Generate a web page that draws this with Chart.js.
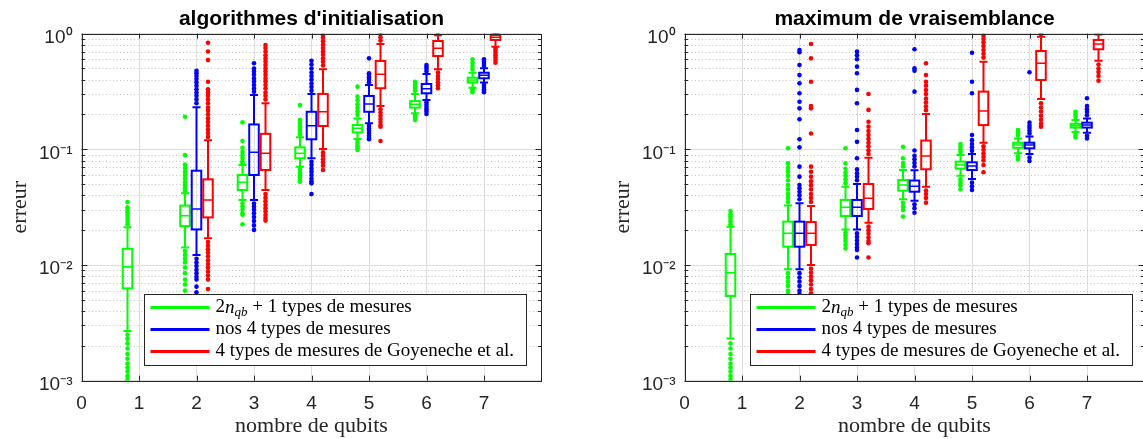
<!DOCTYPE html>
<html>
<head>
<meta charset="utf-8">
<script src="https://cdn.jsdelivr.net/npm/chart.js@4.4.1/dist/chart.umd.min.js"></script>
<style>
  html, body { margin: 0; padding: 0; background: #fff; overflow: hidden; width: 1143px; height: 439px; }
  .panel { position: absolute; top: 0; width: 623px; height: 439px; }
  #gauche { left: 0; }
  #droite { left: 603px; }
</style>
</head>
<body>
<div class="panel" id="gauche"><canvas id="c1" width="623" height="439"></canvas></div>
<div class="panel" id="droite"><canvas id="c2" width="623" height="439"></canvas></div>
<script>
// les donnees
const qubits = [1, 2, 3, 4, 5, 6, 7];
const xTicks = [0, 1, 2, 3, 4, 5, 6, 7];
const yTicks = [0.001, 0.01, 0.1, 1];
const yTickLabels = ['10⁻³', '10⁻²', '10⁻¹', '10⁰'];
const titres = ["algorithmes d'initialisation", 'maximum de vraisemblance'];
const legendeTextes = [' + 1 types de mesures', 'nos 4 types de mesures', '4 types de mesures de Goyeneche et al.'];

// algorithmes d'initialisation - 2nqb+1 (vert)
const initVertBas  = [0.00269, 0.0142, 0.0365, 0.0708, 0.123, 0.205, 0.341];
const initVertQ1   = [0.00628, 0.0217, 0.0445, 0.0836, 0.140, 0.229, 0.377];
const initVertMed  = [0.00966, 0.0267, 0.0519, 0.0923, 0.152, 0.245, 0.397];
const initVertQ3   = [0.0138, 0.0326, 0.0600, 0.104, 0.162, 0.261, 0.416];
const initVertHaut = [0.0212, 0.0417, 0.0731, 0.127, 0.185, 0.301, 0.459];
const initVertHors = [
  [0.0225, 0.024, 0.0255, 0.027, 0.0285, 0.030, 0.0315, 0.035, 0.0025, 0.0023, 0.0021, 0.0019, 0.0017, 0.00155, 0.0014, 0.0013, 0.0012, 0.0011, 0.00102],
  [0.0435, 0.046, 0.049, 0.052, 0.056, 0.060, 0.064, 0.069, 0.074, 0.089, 0.191, 0.0132, 0.0122, 0.0113, 0.0105, 0.0095, 0.0085, 0.0075, 0.0068, 0.006],
  [0.076, 0.079, 0.084, 0.089, 0.095, 0.103, 0.118, 0.171, 0.034, 0.032, 0.030, 0.028, 0.0272, 0.0225],
  [0.134, 0.141, 0.149, 0.158, 0.168, 0.179, 0.241, 0.067, 0.063, 0.060, 0.057, 0.0545, 0.0525],
  [0.198, 0.212, 0.228, 0.245, 0.265, 0.285, 0.348, 0.117, 0.111, 0.106, 0.1015, 0.0986],
  [0.32, 0.34, 0.36, 0.384, 0.196, 0.188, 0.179],
  [0.49, 0.525, 0.56, 0.600, 0.33, 0.32, 0.311]
];

// algorithmes d'initialisation - nos 4 (bleu)
const initBleuBas  = [null, 0.0122, 0.0365, 0.0836, 0.168, 0.267, 0.377];
const initBleuQ1   = [null, 0.0203, 0.0600, 0.122, 0.211, 0.305, 0.411];
const initBleuMed  = [null, 0.0305, 0.0942, 0.160, 0.246, 0.334, 0.436];
const initBleuQ3   = [null, 0.0653, 0.164, 0.211, 0.289, 0.367, 0.459];
const initBleuHaut = [null, 0.231, 0.295, 0.301, 0.360, 0.448, 0.501];
const initBleuHors = [
  [],
  [0.25, 0.27, 0.29, 0.31, 0.33, 0.355, 0.38, 0.405, 0.43, 0.455, 0.478, 0.0113, 0.0105, 0.0098, 0.0091, 0.0085, 0.0079, 0.0075, 0.0065, 0.0058],
  [0.315, 0.335, 0.36, 0.385, 0.41, 0.44, 0.47, 0.50, 0.554, 0.034, 0.032, 0.030, 0.028, 0.026, 0.024, 0.022, 0.0201],
  [0.32, 0.345, 0.37, 0.40, 0.43, 0.46, 0.50, 0.54, 0.583, 0.078, 0.073, 0.068, 0.064, 0.060, 0.056, 0.053, 0.0508, 0.041],
  [0.38, 0.40, 0.42, 0.44, 0.454, 0.611, 0.16, 0.152, 0.145, 0.138, 0.131, 0.125, 0.122],
  [0.47, 0.495, 0.515, 0.535, 0.255, 0.243, 0.232, 0.222, 0.212, 0.202],
  [0.525, 0.55, 0.575, 0.60, 0.36, 0.345, 0.33, 0.32, 0.311]
];

// algorithmes d'initialisation - Goyeneche (rouge)
const initRougeBas  = [null, 0.0170, 0.0445, 0.1006, 0.237, 0.491, 0.771];
const initRougeQ1   = [null, 0.0258, 0.0662, 0.159, 0.337, 0.640, 0.881];
const initRougeMed  = [null, 0.0365, 0.0923, 0.211, 0.445, 0.746, 0.929];
const initRougeQ3   = [null, 0.0550, 0.136, 0.301, 0.580, 0.863, 0.973];
const initRougeHaut = [null, 0.120, 0.250, 0.491, 0.813, 0.966, 1.0];
const initRougeHors = [
  [],
  [0.128, 0.138, 0.148, 0.16, 0.172, 0.185, 0.20, 0.215, 0.23, 0.25, 0.27, 0.29, 0.31, 0.33, 0.384, 0.59, 0.70, 0.834, 0.0158, 0.0147, 0.0137, 0.0128, 0.0119, 0.011, 0.0102, 0.0095, 0.0088, 0.0081, 0.0075, 0.0062],
  [0.27, 0.29, 0.31, 0.335, 0.36, 0.385, 0.41, 0.44, 0.47, 0.50, 0.535, 0.57, 0.61, 0.65, 0.70, 0.75, 0.797, 0.041, 0.038, 0.0355, 0.033, 0.031, 0.029, 0.027, 0.0255, 0.0242],
  [0.53, 0.57, 0.61, 0.655, 0.70, 0.75, 0.80, 0.86, 0.92, 0.96, 0.094, 0.088, 0.082, 0.077, 0.072, 0.0662],
  [0.87, 0.93, 0.99, 0.222, 0.208, 0.195, 0.183, 0.172, 0.162, 0.157, 0.118],
  [0.99, 0.46, 0.43, 0.405, 0.38, 0.357, 0.337],
  [0.74, 0.71, 0.68, 0.65, 0.62, 0.59, 0.561]
];

// maximum de vraisemblance - 2nqb+1 (vert)
const mvVertBas  = [0.00232, 0.00918, 0.0203, 0.0370, 0.0591, 0.0923, 0.141];
const mvVertQ1   = [0.00540, 0.0144, 0.0265, 0.0439, 0.0680, 0.103, 0.154];
const mvVertMed  = [0.00858, 0.0188, 0.0315, 0.0491, 0.0731, 0.109, 0.160];
const mvVertQ3   = [0.01245, 0.0237, 0.0365, 0.0543, 0.0782, 0.114, 0.166];
const mvVertHaut = [0.0214, 0.0326, 0.0475, 0.0662, 0.0893, 0.124, 0.179];
const mvVertHors = [
  [0.0225, 0.0238, 0.025, 0.0262, 0.0275, 0.0293, 0.0021, 0.0019, 0.0017, 0.00155, 0.0014, 0.0013, 0.0012, 0.0011, 0.00102],
  [0.035, 0.038, 0.041, 0.045, 0.049, 0.054, 0.059, 0.064, 0.069, 0.0757, 0.102, 0.0085, 0.0078, 0.0072, 0.0066, 0.006, 0.0056],
  [0.051, 0.055, 0.059, 0.063, 0.068, 0.0757, 0.102, 0.0192, 0.0181, 0.0171, 0.0161, 0.015, 0.0139],
  [0.071, 0.076, 0.0836, 0.105, 0.0345, 0.032, 0.0299, 0.0262],
  [0.095, 0.10, 0.105, 0.111, 0.055, 0.052, 0.049, 0.0451],
  [0.132, 0.14, 0.147, 0.087, 0.0819],
  [0.19, 0.2, 0.211, 0.133, 0.127]
];

// maximum de vraisemblance - nos 4 (bleu)
const mvBleuBas  = [null, 0.00918, 0.0203, 0.0360, 0.0554, 0.0910, 0.139];
const mvBleuQ1   = [null, 0.0144, 0.0265, 0.0430, 0.0662, 0.102, 0.154];
const mvBleuMed  = [null, 0.0188, 0.0315, 0.048, 0.0719, 0.109, 0.162];
const mvBleuQ3   = [null, 0.0237, 0.0365, 0.0537, 0.0772, 0.114, 0.170];
const mvBleuHaut = [null, 0.0341, 0.0501, 0.066, 0.091, 0.129, 0.185];
const mvBleuHors = [
  [],
  [0.037, 0.040, 0.043, 0.046, 0.0491, 0.058, 0.0708, 0.104, 0.122, 0.182, 0.226, 0.258, 0.305, 0.372, 0.438, 0.535, 0.69, 0.722, 0.0085, 0.0078, 0.0072, 0.0066, 0.006, 0.0056],
  [0.054, 0.058, 0.062, 0.067, 0.0836, 0.116, 0.147, 0.25, 0.326, 0.454, 0.518, 0.60, 0.65, 0.698, 0.0188, 0.0175, 0.0163, 0.0152, 0.0142, 0.0135, 0.0116],
  [0.071, 0.076, 0.082, 0.088, 0.0975, 0.315, 0.478, 0.501, 0.732, 0.0335, 0.031, 0.0283],
  [0.097, 0.104, 0.111, 0.12, 0.133, 0.305, 0.384, 0.684, 0.0515, 0.048, 0.0445],
  [0.137, 0.145, 0.153, 0.16, 0.17, 0.463, 0.085, 0.0792],
  [0.197, 0.21, 0.222, 0.237, 0.276, 0.131, 0.124]
];

// maximum de vraisemblance - Goyeneche (rouge)
const mvRougeBas  = [null, 0.0100, 0.0232, 0.0475, 0.114, 0.272, 0.583];
const mvRougeQ1   = [null, 0.0149, 0.0305, 0.0672, 0.162, 0.397, 0.732];
const mvRougeMed  = [null, 0.0188, 0.0377, 0.0875, 0.214, 0.554, 0.813];
const mvRougeQ3   = [null, 0.0235, 0.0501, 0.119, 0.315, 0.707, 0.881];
const mvRougeHaut = [null, 0.0324, 0.0846, 0.202, 0.572, 0.94, 0.98];
const mvRougeHors = [
  [],
  [0.035, 0.038, 0.041, 0.045, 0.049, 0.053, 0.058, 0.064, 0.0708, 0.137, 0.226, 0.237, 0.384, 0.611, 0.813, 0.0093, 0.0086, 0.008, 0.0074, 0.0068, 0.0062, 0.0057],
  [0.091, 0.098, 0.106, 0.114, 0.123, 0.133, 0.144, 0.157, 0.173, 0.219, 0.301, 0.0215, 0.02, 0.0186, 0.0173, 0.0161, 0.0154, 0.0116],
  [0.218, 0.235, 0.255, 0.275, 0.30, 0.325, 0.355, 0.384, 0.438, 0.554, 0.044, 0.041, 0.038, 0.0346],
  [0.62, 0.67, 0.72, 0.78, 0.84, 0.9, 0.96, 0.106, 0.099, 0.092, 0.086, 0.08, 0.0731, 0.0633],
  [0.99, 0.25, 0.23, 0.212, 0.195, 0.18, 0.166, 0.157],
  [0.54, 0.50, 0.465, 0.43, 0.392]
];

// style
const couleurs = ['#00ff00', '#0000ff', '#ff0000'];
const decalages = [-0.2, 0, 0.2];
const demiBoite = 0.083;
const demiCap = 0.07;
const gris = '#262626';
const sans = '"Liberation Sans", Arial, Helvetica, sans-serif';
const serif = '"Liberation Serif", "Times New Roman", serif';

function serie(i, bas, q1, med, q3, haut, hors) {
  return { couleur: couleurs[i], decal: decalages[i], bas, q1, med, q3, haut, hors };
}

const seriesInit = [
  serie(0, initVertBas, initVertQ1, initVertMed, initVertQ3, initVertHaut, initVertHors),
  serie(1, initBleuBas, initBleuQ1, initBleuMed, initBleuQ3, initBleuHaut, initBleuHors),
  serie(2, initRougeBas, initRougeQ1, initRougeMed, initRougeQ3, initRougeHaut, initRougeHors)
];
const seriesMv = [
  serie(0, mvVertBas, mvVertQ1, mvVertMed, mvVertQ3, mvVertHaut, mvVertHors),
  serie(1, mvBleuBas, mvBleuQ1, mvBleuMed, mvBleuQ3, mvBleuHaut, mvBleuHors),
  serie(2, mvRougeBas, mvRougeQ1, mvRougeMed, mvRougeQ3, mvRougeHaut, mvRougeHors)
];

function estMajeur(v) {
  const l = Math.log10(v);
  return Math.abs(l - Math.round(l)) < 1e-6;
}

// les valeurs aberrantes deviennent des points scatter
function pointsHors(s) {
  const pts = [];
  qubits.forEach((q, i) => {
    s.hors[i].forEach(v => pts.push({ x: q + s.decal, y: v }));
  });
  return pts;
}

// plugin qui dessine boites, moustaches, grille mineure, cadre et legende
function pluginBoites(series, legendeDx) {
  return {
    id: 'boites',
    beforeDatasetsDraw(chart) {
      const { ctx, chartArea: a, scales: { y } } = chart;
      ctx.save();
      ctx.strokeStyle = '#c4c4c4';
      ctx.lineWidth = 1;
      ctx.setLineDash([1, 2.5]);
      y.ticks.forEach(t => {
        if (estMajeur(t.value)) return;
        const py = Math.round(y.getPixelForValue(t.value)) + 0.5;
        ctx.beginPath();
        ctx.moveTo(a.left, py);
        ctx.lineTo(a.right, py);
        ctx.stroke();
      });
      ctx.restore();
    },
    afterDatasetsDraw(chart) {
      const { ctx, chartArea: a, scales: { x, y } } = chart;
      ctx.save();
      ctx.beginPath();
      ctx.rect(a.left, a.top, a.right - a.left, a.bottom - a.top);
      ctx.clip();
      const trait = (x1, y1, x2, y2) => {
        ctx.beginPath();
        ctx.moveTo(x1, y1);
        ctx.lineTo(x2, y2);
        ctx.stroke();
      };
      series.forEach(s => {
        ctx.strokeStyle = s.couleur;
        qubits.forEach((q, i) => {
          if (s.med[i] == null) return;
          const cx = x.getPixelForValue(q + s.decal);
          const hw = x.getPixelForValue(q + s.decal + demiBoite) - cx;
          const cw = x.getPixelForValue(q + s.decal + demiCap) - cx;
          const yb = y.getPixelForValue(s.bas[i]);
          const y1 = y.getPixelForValue(s.q1[i]);
          const ym = y.getPixelForValue(s.med[i]);
          const y3 = y.getPixelForValue(s.q3[i]);
          const yh = y.getPixelForValue(s.haut[i]);
          ctx.lineWidth = 2;
          trait(cx, y3, cx, yh);
          trait(cx, y1, cx, yb);
          trait(cx - cw, yh, cx + cw, yh);
          trait(cx - cw, yb, cx + cw, yb);
          ctx.strokeRect(cx - hw, y3, 2 * hw, y1 - y3);
          ctx.lineWidth = 1.5;
          trait(cx - hw, ym, cx + hw, ym);
        });
      });
      ctx.restore();
    },
    afterDraw(chart) {
      const { ctx, chartArea: a, scales: { x, y } } = chart;
      ctx.save();
      // cadre
      ctx.strokeStyle = gris;
      ctx.lineWidth = 1;
      ctx.strokeRect(Math.round(a.left) + 0.5, Math.round(a.top) + 0.5, Math.round(a.right - a.left) - 1, Math.round(a.bottom - a.top));
      // petits traits vers l'interieur
      y.ticks.forEach(t => {
        const py = Math.round(y.getPixelForValue(t.value)) + 0.5;
        const l = estMajeur(t.value) ? 6 : 3.5;
        ctx.beginPath();
        ctx.moveTo(a.left, py); ctx.lineTo(a.left + l, py);
        ctx.moveTo(a.right, py); ctx.lineTo(a.right - l, py);
        ctx.stroke();
      });
      x.ticks.forEach(t => {
        const px = Math.round(x.getPixelForValue(t.value)) + 0.5;
        ctx.beginPath();
        ctx.moveTo(px, a.bottom); ctx.lineTo(px, a.bottom - 5);
        ctx.moveTo(px, a.top); ctx.lineTo(px, a.top + 5);
        ctx.stroke();
      });
      // legende
      const lx = Math.round(a.left + legendeDx) + 0.5;
      const ly = Math.round(a.bottom - 87) + 0.5;
      const lw = 382, lh = 71;
      ctx.fillStyle = '#fff';
      ctx.fillRect(lx, ly, lw, lh);
      ctx.strokeStyle = gris;
      ctx.strokeRect(lx, ly, lw, lh);
      ctx.textBaseline = 'middle';
      ctx.textAlign = 'left';
      series.forEach((s, i) => {
        const ry = ly + 13 + i * 22;
        ctx.strokeStyle = s.couleur;
        ctx.lineWidth = 3;
        ctx.beginPath();
        ctx.moveTo(lx + 6, ry);
        ctx.lineTo(lx + 65, ry);
        ctx.stroke();
        ctx.fillStyle = '#000';
        let tx = lx + 71;
        if (i === 0) {
          ctx.font = '19px ' + serif;
          ctx.fillText('2', tx, ry);
          tx += ctx.measureText('2').width;
          ctx.font = 'italic 19px ' + serif;
          ctx.fillText('n', tx, ry);
          tx += ctx.measureText('n').width;
          ctx.font = 'italic 13px ' + serif;
          ctx.fillText('qb', tx, ry + 5);
          tx += ctx.measureText('qb').width;
        }
        ctx.font = '19px ' + serif;
        ctx.fillText(legendeTextes[i], tx, ry);
      });
      ctx.restore();
    }
  };
}

function faireGraphe(id, titre, series, legendeDx) {
  const datasets = series.map(s => ({
    type: 'scatter',
    data: pointsHors(s),
    backgroundColor: s.couleur,
    borderWidth: 0,
    pointRadius: 2.3,
    pointHoverRadius: 2.3
  }));
  return new Chart(document.getElementById(id), {
    type: 'scatter',
    data: { datasets },
    options: {
      responsive: false,
      animation: false,
      devicePixelRatio: 1,
      events: [],
      layout: { padding: 0 },
      plugins: {
        legend: { display: false },
        tooltip: { enabled: false },
        title: {
          display: true,
          text: titre,
          color: '#000',
          font: { family: sans, size: 21, weight: 'bold' },
          padding: { top: 6.4, bottom: 2 }
        }
      },
      scales: {
        x: {
          type: 'linear',
          min: 0,
          max: 8,
          afterFit(s) { s.height = 58.3; },
          afterBuildTicks(s) { s.ticks = xTicks.map(v => ({ value: v })); },
          ticks: { color: gris, padding: 12, font: { family: sans, size: 19 }, callback: v => String(v) },
          grid: { color: '#dedede', drawTicks: false },
          border: { display: false },
          title: { display: true, text: 'nombre de qubits', color: gris, font: { family: serif, size: 22 }, padding: 0 }
        },
        y: {
          type: 'logarithmic',
          min: 0.001,
          max: 1,
          afterFit(s) { s.width = 81.5; },
          afterBuildTicks(s) {
            const t = [];
            yTicks.forEach(v => {
              t.push({ value: v });
              if (v < 1) for (let k = 2; k <= 9; k++) t.push({ value: v * k });
            });
            s.ticks = t;
          },
          ticks: {
            color: gris,
            padding: 9,
            labelOffset: 4,
            autoSkip: false,
            font: { family: sans, size: 19 },
            callback: v => {
              const j = yTicks.findIndex(m => Math.abs(m - v) < m * 1e-6);
              return j >= 0 ? yTickLabels[j] : '';
            }
          },
          grid: {
            drawTicks: false,
            color: c => (c.tick && estMajeur(c.tick.value)) ? '#dedede' : 'rgba(0,0,0,0)'
          },
          border: { display: false },
          title: { display: true, text: 'erreur', color: gris, font: { family: serif, size: 22 }, padding: { top: 7, bottom: 0 } }
        },
        y2: {
          type: 'linear',
          position: 'right',
          afterFit(s) { s.width = 81.5; },
          ticks: { display: false },
          grid: { display: false },
          border: { display: false }
        }
      }
    },
    plugins: [pluginBoites(series, legendeDx)]
  });
}

faireGraphe('c1', titres[0], seriesInit, 62.5);
faireGraphe('c2', titres[1], seriesMv, 65.5);
</script>
</body>
</html>
